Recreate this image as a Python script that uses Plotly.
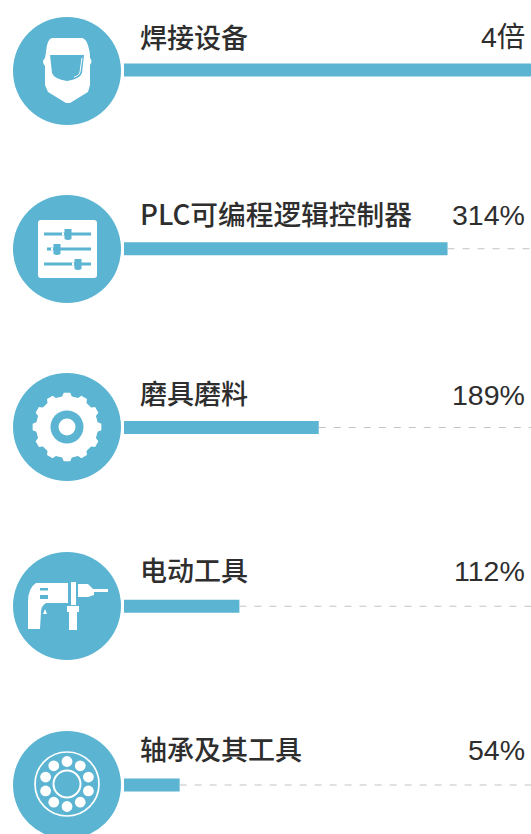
import math
import re
import plotly.graph_objects as go

categories = ["焊接设备", "PLC可编程逻辑控制器", "磨具磨料", "电动工具", "轴承及其工具"]
values = [400, 314, 189, 112, 54]
value_labels = ["4倍", "314%", "189%", "112%", "54%"]

BLUE = "#5AB4D2"
TEXT = "#2E2E2E"
DASH = "#C4C4C4"
W, H = 531, 834
X_MAX = 395
ROW0, STEP = 70, 178.75
CENTERS = [71, 249, 427, 606, 785]
LABEL_SIZES = [27, 27.7, 27, 27, 27]
LABEL_DY = [-34, -36, -35, -37, -37]
VALUE_DY = [-33, -34, -33, -35, -35]

fig = go.Figure()

# dashed remainder of each bar
for i, v in enumerate(values):
    if v < X_MAX:
        fig.add_trace(go.Scatter(x=[v, X_MAX], y=[categories[i]] * 2, mode="lines",
                                 line=dict(color=DASH, width=1.2, dash="7px,8px"),
                                 hoverinfo="skip", showlegend=False))

fig.add_trace(go.Bar(x=values, y=categories, orientation="h", width=13 / STEP,
                     marker=dict(color=BLUE, line=dict(width=0)), showlegend=False))

# Labels
for cat, lab, dy, vdy, size in zip(categories, value_labels, LABEL_DY, VALUE_DY, LABEL_SIZES):
    fig.add_annotation(x=0, y=cat, xref="x", yref="y", text=cat, showarrow=False, xanchor="left",
                       yanchor="middle", xshift=14, yshift=-dy,
                       font=dict(family="Noto Sans CJK SC", size=size, color=TEXT, weight=500))
    fig.add_annotation(x=1, y=cat, xref="x domain", yref="y", text=lab, showarrow=False, xanchor="right",
                       yanchor="middle", xshift=-4, yshift=-vdy,
                       font=dict(family="Liberation Sans, Noto Sans CJK SC", size=28.5, color=TEXT))

shapes = []


def to_paper(path):
    # decorative icon outlines are authored in page pixels
    nums = re.split(r"([A-Za-z ])", path)
    out = []
    for tok in nums:
        if re.fullmatch(r"-?[\d.]+,-?[\d.]+", tok):
            a, b = tok.split(",")
            out.append(f"{float(a)/W:.5f},{1-float(b)/H:.5f}")
        else:
            out.append(tok)
    return "".join(out)


def add(kind="path", layer="above", **kw):
    d = dict(type=kind, xref="paper", yref="paper", layer=layer, line=dict(width=0))
    if "path" in kw:
        kw["path"] = to_paper(kw["path"])
    for a in ("x0", "x1"):
        if a in kw:
            kw[a] = kw[a] / W
    for a in ("y0", "y1"):
        if a in kw:
            kw[a] = 1 - kw[a] / H
    d.update(kw)
    shapes.append(d)


def circle(cx, cy, r, fill, line=None):
    add("circle", x0=cx - r, x1=cx + r, y0=cy - r, y1=cy + r, fillcolor=fill,
        line=line or dict(width=0))


def poly(pts):
    return "M" + " L".join(f"{x:.2f},{y:.2f}" for x, y in pts) + " Z"


def rect(x0, y0, x1, y1, fill):
    add("rect", x0=x0, x1=x1, y0=y0, y1=y1, fillcolor=fill)


for cy in CENTERS:
    circle(67, cy, 54, BLUE)

# helmet
add(path="M52,38 L82,38 Q88,39 90,55 L90,58 Q93,61 90,65 L90,85 L88,92 L70,103 L66,103 L48,92 L45,85 L45,66 "
         "Q41,61 45,58 L46,52 Q47,39 52,38 Z", fillcolor="white")
add(path="M50,55 L84,55 L82,73 Q80,79 67,81 Q54,79 52,73 Z", fillcolor=BLUE)
add(path="M82,58 L80,72 Q79,76 74,77", line=dict(color="white", width=1), fillcolor="rgba(0,0,0,0)")

# sliders
add(path="M41,220 L94,220 Q97,220 97,223 L97,275 Q97,278 94,278 L41,278 Q38,278 38,275 L38,223 Q38,220 41,220 Z",
    fillcolor="white")
for ly, lx0, lx1, kx in [(234, 44, 91, 68), (249, 47, 91, 57), (264, 44, 91, 78)]:
    rect(lx0, ly - 1.5, lx1, ly + 1.5, BLUE)
    rect(kx - 6, ly - 1.5, kx - 4, ly + 1.5, "white")
    add(path=f"M{kx-3.5},{ly-5} L{kx+3.5},{ly-5} L{kx+3.5},{ly+5} Q{kx},{ly+7} {kx-3.5},{ly+5} Z", fillcolor=BLUE)

# gear
gx, gy = 67, 427
teeth = 12
pts = []
for k in range(teeth):
    a = 2 * math.pi * k / teeth
    s = 2 * math.pi / teeth
    for off, r in [(-0.30, 31), (-0.18, 34.5), (0.18, 34.5), (0.30, 31)]:
        t = a + off * s
        pts.append((gx + r * math.cos(t), gy + r * math.sin(t)))
add(path=poly(pts), fillcolor="white")
circle(gx, gy, 16.5, BLUE)
circle(gx, gy, 8.5, "white")

# drill
add(path="M36,583 L68,583 L68,603 L46,603 Q41,606 41,612 L40,629 L28,629 L28,602 Q28,588 36,583 Z", fillcolor="white")
rect(71, 582, 76, 605, "white")
add(path="M78,584 L88,584 L94,590 L94,595 L88,597 L78,597 Z", fillcolor="white")
rect(93, 589, 108, 592, "white")
rect(67, 606, 79, 612, "white")
rect(69, 612, 77, 630, "white")
rect(40, 588, 48, 590.5, BLUE)
rect(40, 595, 48, 599, BLUE)
add(path="M45,609 L47,614 L43,614 Z", fillcolor="white")

# bearing
bx, by = 67, 784
circle(bx, by, 32, "rgba(0,0,0,0)", dict(color="white", width=1.7))
circle(bx, by, 13.5, "rgba(0,0,0,0)", dict(color="white", width=2))
for k in range(10):
    t = 2 * math.pi * k / 10
    circle(bx + 22.5 * math.sin(t), by - 22.5 * math.cos(t), 5.4, "white")

fig.update_layout(
    width=W, height=H, margin=dict(l=0, r=0, t=0, b=0), paper_bgcolor="white", plot_bgcolor="white",
    barmode="overlay", shapes=shapes, showlegend=False,
    xaxis=dict(domain=[124 / W, 1], range=[0, X_MAX], visible=False, fixedrange=True),
    yaxis=dict(type="category", categoryorder="array", categoryarray=categories,
               range=[(H - ROW0) / STEP, -ROW0 / STEP], visible=False, fixedrange=True),
)
fig.write_html("out.html", config=dict(displayModeBar=False),
               post_script="document.body.style.margin='0';document.body.style.overflow='hidden';")
